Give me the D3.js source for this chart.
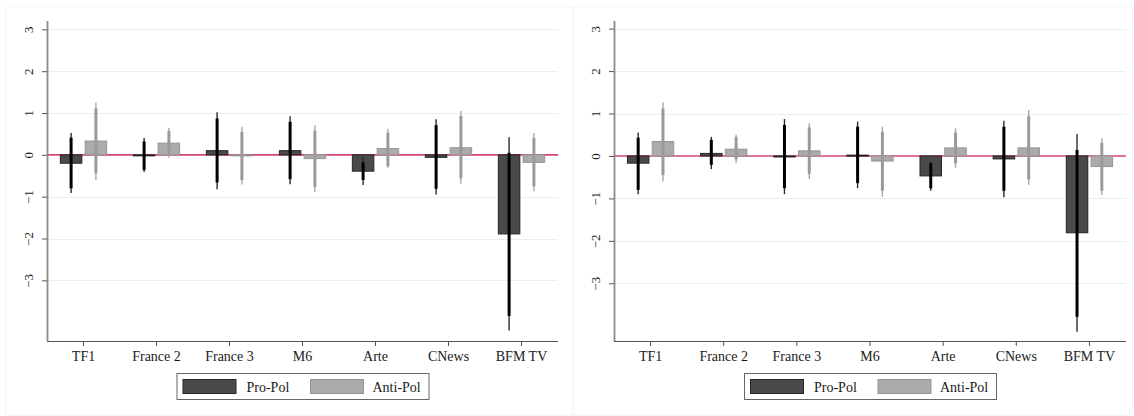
<!DOCTYPE html>
<html>
<head>
<meta charset="utf-8">
<script src="https://cdn.jsdelivr.net/npm/d3@7"></script>
<style>
  html, body { margin: 0; padding: 0; background: #fff; }
  svg { display: block; }
  text { font-family: "Liberation Serif", "Times New Roman", serif; fill: #1a1a1a; }
</style>
</head>
<body>
<svg id="chart" width="1134" height="416"></svg>
<script>
// ---------------- DATA ----------------
const categories = ["TF1", "France 2", "France 3", "M6", "Arte", "CNews", "BFM TV"];
const seriesNames = ["Pro-Pol", "Anti-Pol"];
const yTicks = [-3, -2, -1, 0, 1, 2, 3];

// Left panel
const leftProValues  = [-0.20, -0.02, 0.10, 0.10, -0.39, -0.06, -1.89];
const leftProThickLo = [-0.80, -0.36, -0.66, -0.58, -0.60, -0.81, -3.85];
const leftProThickHi = [ 0.41,  0.32,  0.87,  0.79, -0.18,  0.71,  0.05];
const leftProThinLo  = [-0.91, -0.41, -0.82, -0.70, -0.72, -0.95, -4.20];
const leftProThinHi  = [ 0.52,  0.40,  1.02,  0.92, -0.06,  0.85,  0.42];

const leftAntiValues  = [0.33, 0.28, -0.02, -0.09, 0.15, 0.17, -0.18];
const leftAntiThickLo = [-0.44, -0.01, -0.60, -0.77, -0.27, -0.56, -0.75];
const leftAntiThickHi = [ 1.11,  0.57,  0.55,  0.58,  0.53,  0.93,  0.40];
const leftAntiThinLo  = [-0.60, -0.07, -0.71, -0.89, -0.31, -0.69, -0.87];
const leftAntiThinHi  = [ 1.25,  0.64,  0.67,  0.71,  0.62,  1.05,  0.52];

// Right panel
const rightProValues  = [-0.17, 0.06, -0.01, 0.02, -0.47, -0.07, -1.81];
const rightProThickLo = [-0.80, -0.21, -0.76, -0.64, -0.76, -0.82, -3.79];
const rightProThickHi = [ 0.43,  0.38,  0.73,  0.69, -0.17,  0.69,  0.14];
const rightProThinLo  = [-0.90, -0.31, -0.90, -0.76, -0.82, -0.97, -4.14];
const rightProThinHi  = [ 0.55,  0.45,  0.87,  0.81, -0.12,  0.83,  0.52];

const rightAntiValues  = [0.34, 0.16, 0.12, -0.12, 0.19, 0.19, -0.25];
const rightAntiThickLo = [-0.45, -0.08, -0.42, -0.82, -0.17, -0.55, -0.82];
const rightAntiThickHi = [ 1.12,  0.45,  0.67,  0.57,  0.55,  0.94,  0.31];
const rightAntiThinLo  = [-0.60, -0.17, -0.54, -0.96, -0.28, -0.68, -0.92];
const rightAntiThinHi  = [ 1.26,  0.50,  0.77,  0.69,  0.65,  1.08,  0.42];

const leftYDomain  = [-4.45, 3.2];
const rightYDomain = [-4.36, 3.18];

// ---------------- STYLE ----------------
const proFill = "#4a4a4a", proStroke = "#262626";
const antiFill = "#ababab", antiStroke = "#959595";
const proErr = "#000000", proErrThin = "#2b2b2b";
const antiErr = "#9a9a9a", antiErrThin = "#a8a8a8";

const svg = d3.select("#chart");

function buildSeries(v, tl, th, nl, nh) {
  return categories.map((c, i) => ({ cat: c, v: v[i], tl: tl[i], th: th[i], nl: nl[i], nh: nh[i] }));
}

function drawPanel(cfg) {
  const { x0, x1, y0, y1, domain, pro, anti, border } = cfg;
  const g = svg.append("g");

  // faint outer region border
  g.append("rect")
    .attr("x", border[0] + 0.5).attr("y", border[1] + 0.5)
    .attr("width", border[2] - border[0]).attr("height", border[3] - border[1])
    .attr("fill", "none").attr("stroke", "#f3f6f8").attr("stroke-width", 1);

  const x = d3.scaleBand().domain(categories).range([x0, x1]).paddingInner(0).paddingOuter(0);
  const y = d3.scaleLinear().domain(domain).range([y1, y0]);

  // gridlines
  g.append("g").selectAll("line").data(yTicks.filter(t => t !== 0)).join("line")
    .attr("x1", x0).attr("x2", x1)
    .attr("y1", d => Math.round(y(d)) + 0.5).attr("y2", d => Math.round(y(d)) + 0.5)
    .attr("stroke", "#e6eff1").attr("stroke-width", 1);

  // zero line
  g.append("line")
    .attr("x1", x0).attr("x2", x1)
    .attr("y1", y(0)).attr("y2", y(0))
    .attr("stroke", "#d4476c").attr("stroke-width", 1.6);

  const off = 12.4, bw = 21.5;
  const cx = d => x(d.cat) + x.bandwidth() / 2;

  const groups = [
    { data: pro, dx: -off, fill: proFill, stroke: proStroke, err: proErr, errThin: proErrThin },
    { data: anti, dx: off, fill: antiFill, stroke: antiStroke, err: antiErr, errThin: antiErrThin }
  ];

  groups.forEach(s => {
    g.append("g").selectAll("rect").data(s.data).join("rect")
      .attr("x", d => cx(d) + s.dx - bw / 2)
      .attr("width", bw)
      .attr("y", d => Math.min(y(d.v), y(0)))
      .attr("height", d => Math.max(1, Math.abs(y(d.v) - y(0))))
      .attr("fill", s.fill).attr("stroke", s.stroke).attr("stroke-width", 1);
  });

  groups.forEach(s => {
    const eg = g.append("g");
    eg.selectAll("line.thin").data(s.data).join("line").attr("class", "thin")
      .attr("x1", d => cx(d) + s.dx).attr("x2", d => cx(d) + s.dx)
      .attr("y1", d => y(d.nh)).attr("y2", d => y(d.nl))
      .attr("stroke", s.errThin).attr("stroke-width", 1.4);
    eg.selectAll("line.thick").data(s.data).join("line").attr("class", "thick")
      .attr("x1", d => cx(d) + s.dx).attr("x2", d => cx(d) + s.dx)
      .attr("y1", d => y(d.th)).attr("y2", d => y(d.tl))
      .attr("stroke", s.err).attr("stroke-width", 3);
  });

  // y axis
  const ya = g.append("g").attr("transform", `translate(${x0},0)`)
    .call(d3.axisLeft(y).tickValues(yTicks).tickSize(5).tickFormat(d3.format("d")));
  ya.attr("font-family", null);
  ya.select(".domain").attr("d", `M0.5,${y0}V${y1}`).attr("stroke", "#8c8c8c").attr("stroke-width", 1.8);
  ya.selectAll(".tick line").attr("stroke", "#555").attr("stroke-width", 1);
  ya.selectAll(".tick text")
    .attr("x", null).attr("dy", null)
    .attr("transform", "translate(-14,0) rotate(-90)")
    .attr("text-anchor", "middle")
    .attr("dy", "0")
    .style("font-family", "'Liberation Serif', serif")
    .style("font-size", "13px").attr("fill", "#1a1a1a");

  // x axis
  const xa = g.append("g").attr("transform", `translate(0,${y1})`)
    .call(d3.axisBottom(x).tickSize(5).tickSizeOuter(0));
  xa.attr("font-family", null);
  xa.select(".domain").attr("d", `M${x0},0.5H${x1}`).attr("stroke", "#555").attr("stroke-width", 1.2);
  xa.selectAll(".tick line").attr("stroke", "#555");
  xa.selectAll(".tick text")
    .attr("y", 20).attr("dy", "0")
    .style("font-family", "'Liberation Serif', serif")
    .style("font-size", "14px").attr("fill", "#1a1a1a");

  // legend
  const lw = 252, lh = 26;
  const lx = (x0 + x1) / 2 - lw / 2, ly = 373;
  const lg = g.append("g").attr("transform", `translate(${lx},${ly})`);
  lg.append("rect").attr("x", 0.5).attr("y", 0.5).attr("width", lw).attr("height", lh)
    .attr("fill", "#fff").attr("stroke", "#666").attr("stroke-width", 1);
  const items = [
    { name: seriesNames[0], fill: proFill, stroke: proStroke, sx: 6.5, tx: 70 },
    { name: seriesNames[1], fill: antiFill, stroke: antiStroke, sx: 134, tx: 196 }
  ];
  items.forEach(it => {
    lg.append("rect").attr("x", it.sx).attr("y", 6.5).attr("width", 53).attr("height", 14)
      .attr("fill", it.fill).attr("stroke", it.stroke).attr("stroke-width", 1);
    lg.append("text").attr("x", it.tx).attr("y", 19)
      .style("font-size", "14px").text(it.name);
  });
}

drawPanel({
  x0: 47, x1: 558, y0: 21, y1: 341, domain: leftYDomain,
  pro: buildSeries(leftProValues, leftProThickLo, leftProThickHi, leftProThinLo, leftProThinHi),
  anti: buildSeries(leftAntiValues, leftAntiThickLo, leftAntiThickHi, leftAntiThinLo, leftAntiThinHi),
  border: [5, 6, 572, 415]
});
drawPanel({
  x0: 614, x1: 1126, y0: 21, y1: 341, domain: rightYDomain,
  pro: buildSeries(rightProValues, rightProThickLo, rightProThickHi, rightProThinLo, rightProThinHi),
  anti: buildSeries(rightAntiValues, rightAntiThickLo, rightAntiThickHi, rightAntiThinLo, rightAntiThinHi),
  border: [574, 6, 1132, 415]
});
</script>
</body>
</html>
